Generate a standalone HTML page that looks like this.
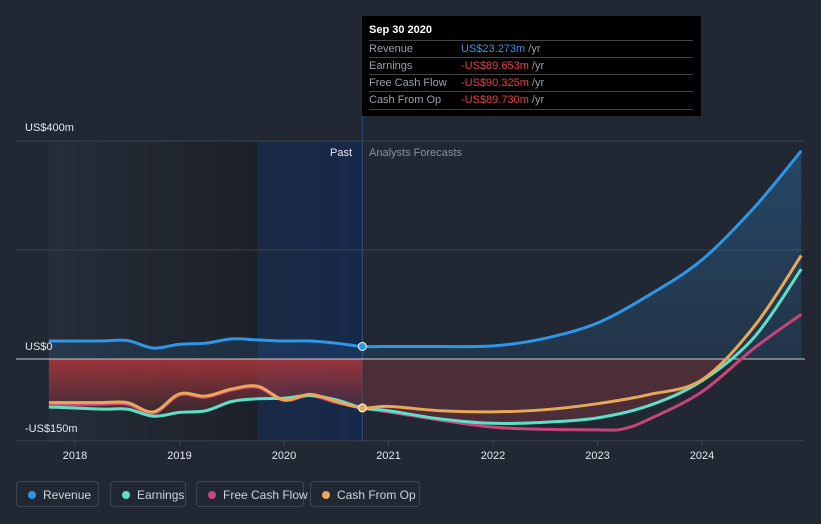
<!DOCTYPE html>
<html><head><meta charset="utf-8"><style>
body{margin:0;background:#212834;font-family:"Liberation Sans",sans-serif;}
#wrap{position:relative;width:821px;height:524px;overflow:hidden;background:#212834}
.leg{position:absolute;top:481px;height:26px;border:1px solid #3e4654;border-radius:4px;color:#d0d4da;font-size:12px;line-height:26px;padding:0 0 0 26px;box-sizing:border-box;white-space:nowrap}
.leg i{position:absolute;left:11px;top:9px;width:8px;height:8px;border-radius:50%}
#tip{position:absolute;left:362px;top:16px;width:339px;height:100px;background:#000;font-size:11px}
#tip .r{position:absolute;left:7px;width:324px;border-top:1px solid #444;height:17px;line-height:17px;color:#9aa0a8}
#tip .v{position:absolute;left:92px}
</style></head><body>
<div id="wrap">
<svg id="svg" width="821" height="524" style="position:absolute;left:0;top:0">
<defs>
<linearGradient id="pastg" x1="0" x2="1" y1="0" y2="0"><stop offset="0" stop-color="#262d39"/><stop offset="1" stop-color="#1c2029"/></linearGradient>
<linearGradient id="blueg" x1="0" x2="1"><stop offset="0" stop-color="#1a2a44"/><stop offset="1" stop-color="#17294a"/></linearGradient>
<linearGradient id="redg" x1="0" x2="0" y1="0" y2="1"><stop offset="0" stop-color="#a8363a" stop-opacity="0.9"/><stop offset="1" stop-color="#a8363a" stop-opacity="0.15"/></linearGradient>
<linearGradient id="revg" x1="0" x2="0" y1="0" y2="1"><stop offset="0" stop-color="#2f8fdc" stop-opacity="0.3"/><stop offset="1" stop-color="#2f8fdc" stop-opacity="0.12"/></linearGradient>
</defs>
</svg>
<div style="position:absolute;left:25px;top:122px;color:#e6e8eb;font-size:11px">US$400m</div>
<div style="position:absolute;left:25px;top:341px;color:#e6e8eb;font-size:11px">US$0</div>
<div style="position:absolute;left:25px;top:423px;color:#e6e8eb;font-size:11px">-US$150m</div>
<div style="position:absolute;left:330px;top:147px;color:#e6e8eb;font-size:11px">Past</div>
<div style="position:absolute;left:369px;top:147px;color:#8a909a;font-size:11px">Analysts Forecasts</div>
<div id="tip">
<div style="position:absolute;left:7px;top:8px;color:#fff;font-weight:bold;font-size:11px">Sep 30 2020</div>
<div class="r" style="top:24px">Revenue<span class="v"><b style="color:#2f96e6;font-weight:normal">US$23.273m</b> /yr</span></div>
<div class="r" style="top:41px">Earnings<span class="v"><b style="color:#e8403f;font-weight:normal">-US$89.653m</b> /yr</span></div>
<div class="r" style="top:58px">Free Cash Flow<span class="v"><b style="color:#e8403f;font-weight:normal">-US$90.325m</b> /yr</span></div>
<div class="r" style="top:75px;border-bottom:1px solid #444">Cash From Op<span class="v"><b style="color:#e8403f;font-weight:normal">-US$89.730m</b> /yr</span></div>
</div>
<div class="leg" style="left:16px;width:83px"><i style="background:#2f96e6"></i>Revenue</div>
<div class="leg" style="left:110px;width:76px"><i style="background:#5ee0c8"></i>Earnings</div>
<div class="leg" style="left:196px;width:108px"><i style="background:#c8457a"></i>Free Cash Flow</div>
<div class="leg" style="left:310px;width:110px"><i style="background:#e8a85a"></i>Cash From Op</div>
</div>
<script>
const xYears=[2018,2019,2020,2021,2022,2023,2024];
const revT=[2017.75,2018.25,2018.5,2018.75,2019,2019.25,2019.5,2019.75,2020,2020.25,2020.5,2020.75,2021,2021.5,2022,2022.5,2023,2023.5,2024,2024.5,2024.95];
const revV=[33,33,34,20,27,29,37,35,33,33,29,23,23,23,24,38,66,118,182,278,382];
const earnT=[2017.75,2018.25,2018.5,2018.75,2019,2019.25,2019.5,2019.75,2020,2020.25,2020.5,2020.75,2021,2021.5,2022,2022.5,2023,2023.5,2024,2024.5,2024.95];
const earnV=[-88,-92,-92,-105,-98,-95,-78,-73,-72,-67,-75,-89.7,-95,-110,-118,-116,-108,-85,-40,40,165];
const fcfT=[2017.75,2018.25,2018.5,2018.75,2019,2019.25,2019.5,2019.75,2020,2020.25,2020.5,2020.75,2021,2022,2023,2023.25,2023.5,2024,2024.5,2024.95];
const fcfV=[-85,-83,-83,-100,-66,-70,-57,-52,-76,-67,-80,-90.3,-97,-125,-130,-128,-110,-60,20,82];
const cfoT=[2017.75,2018.25,2018.5,2018.75,2019,2019.25,2019.5,2019.75,2020,2020.25,2020.5,2020.75,2021,2021.5,2022,2022.5,2023,2023.5,2024,2024.5,2024.95];
const cfoV=[-80,-80,-80,-97,-64,-68,-55,-50,-75,-65,-78,-89.7,-87,-95,-97,-93,-82,-65,-38,60,190];
const pastEnd=2020.75;
const X=t=>75+(t-2018)*104.5, Y=v=>359-v*0.545;
const svg=document.getElementById('svg'),NS='http://www.w3.org/2000/svg';
function el(tag,a){const e=document.createElementNS(NS,tag);for(const k in a)e.setAttribute(k,a[k]);svg.appendChild(e);return e;}
function path(T,V){let d='';const p=T.map((t,i)=>[X(t),Y(V[i])]);d='M'+p[0][0]+','+p[0][1];
for(let i=1;i<p.length;i++){const p0=p[i-2]||p[i-1],p1=p[i-1],p2=p[i],p3=p[i+1]||p2;
d+=` C${p1[0]+(p2[0]-p0[0])/6},${p1[1]+(p2[1]-p0[1])/6} ${p2[0]-(p3[0]-p1[0])/6},${p2[1]-(p3[1]-p1[1])/6} ${p2[0]},${p2[1]}`;}return d;}
const x0=X(revT[0]),xe=X(revT[revT.length-1]),xp=X(pastEnd);
let e;
e=el('rect',{x:x0,y:141,width:X(2019.75)-x0,height:300,fill:'url(#pastg)'});

e=el('rect',{x:X(2019.75),y:141,width:xp-X(2019.75),height:300,fill:'url(#blueg)'});

[400,200].forEach(v=>{e=el('line',{x1:16,x2:805,y1:Y(v),y2:Y(v),stroke:'#3a414d','stroke-width':1});
});
e=el('line',{x1:16,x2:805,y1:Y(-150),y2:Y(-150),stroke:'#3a414d'});

e=el('line',{x1:xp,x2:xp,y1:16,y2:441,stroke:'#2f4f7a'});

const ep=earnT.filter(t=>t<=pastEnd);
e=el('path',{d:path(ep,earnV.slice(0,ep.length))+` L${xp},${Y(0)} L${x0},${Y(0)} Z`,fill:'url(#redg)'});

const ef=earnT.map((t,i)=>i).filter(i=>earnT[i]>=pastEnd&&earnV[i]<=0);
e=el('path',{d:path(ef.map(i=>earnT[i]),ef.map(i=>earnV[i]))+` L${X(2024.3)},${Y(0)} L${xp},${Y(0)} Z`,fill:'#5a3038',opacity:0.75});

e=el('path',{d:path(revT,revV)+` L${xe},${Y(0)} L${x0},${Y(0)} Z`,fill:'url(#revg)'});

e=el('line',{x1:16,x2:805,y1:Y(0),y2:Y(0),stroke:'#c8ccd2','stroke-width':1});

const series=[['fcf-line',fcfT,fcfV,'#c8457a'],['earnings-line',earnT,earnV,'#5ee0c8'],['cfo-line',cfoT,cfoV,'#e8a85a'],['revenue-line',revT,revV,'#2f96e6']];
series.forEach(s=>{e=el('path',{d:path(s[1],s[2]),fill:'none',stroke:s[3],'stroke-width':3});
});
e=el('circle',{cx:xp,cy:Y(revV[revT.indexOf(pastEnd)]),r:4,fill:'#2f96e6',stroke:'#fff','stroke-width':1});

e=el('circle',{cx:xp,cy:Y(cfoV[cfoT.indexOf(pastEnd)]),r:4,fill:'#e8a85a',stroke:'#fff','stroke-width':1});

xYears.forEach(y=>{e=el('line',{x1:X(y),x2:X(y),y1:441,y2:446,stroke:'#3a414d'});

e=el('text',{x:X(y),y:459,fill:'#e6e8eb','font-size':11,'text-anchor':'middle','font-family':'Liberation Sans, sans-serif'});
e.textContent=y;});
</script>
</body></html>
